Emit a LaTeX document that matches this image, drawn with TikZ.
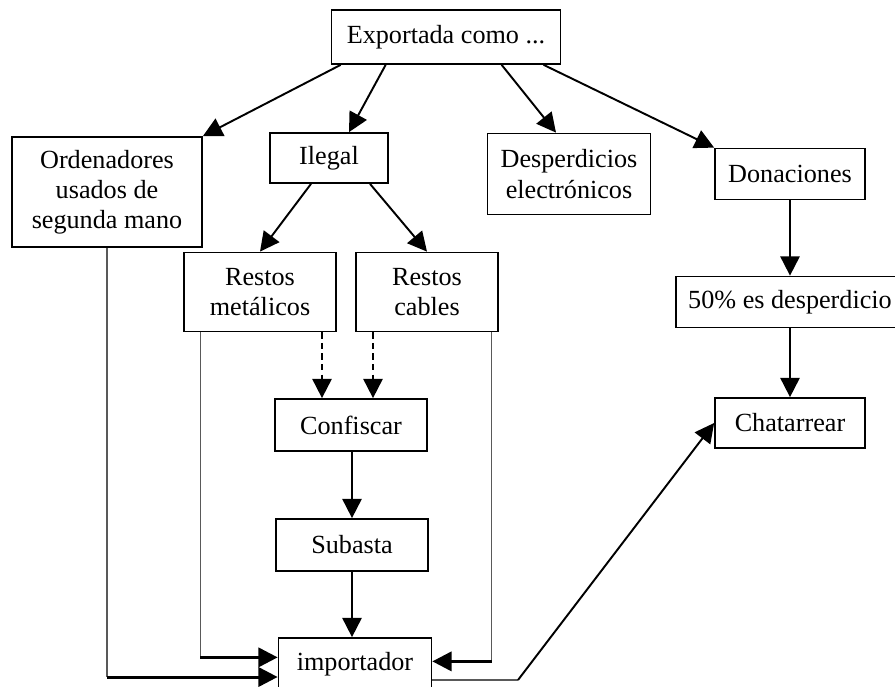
\documentclass[tikz,border=0pt]{standalone}
\usepackage{fontspec}
\setmainfont{Liberation Serif}
\usepackage{tikz}
\usetikzlibrary{arrows.meta,calc}

\begin{document}
\begin{tikzpicture}[x=0.02cm,y=-0.02cm,
  font=\fontsize{14.9}{17.2}\selectfont,
  box/.style={draw,line width=1pt,align=center,inner sep=0pt},
  arr/.style={line width=1.1pt,-{Triangle[length=11pt,width=11pt]}},
  dasharr/.style={arr,dash pattern=on 3.5pt off 2.5pt},
  side/.style={gray!70!black,line width=0.6pt},
  feed/.style={line width=1.7pt,-{Triangle[length=11pt,width=11pt]}}]
\useasboundingbox (0,0) rectangle (895,686);
\node[box,minimum width=4.58cm,minimum height=1.08cm] (export) at (446,37) {Exportada como ...};
\node[box,minimum width=3.8cm,minimum height=2.2cm] (orden) at (107,192) {Ordenadores\\usados de\\segunda mano};
\node[box,minimum width=2.36cm,minimum height=1cm] (ilegal) at (329,158) {Ilegal};
\node[box,minimum width=3.26cm,minimum height=1.62cm] (desp) at (569,174) {Desperdicios\\electrónicos};
\node[box,minimum width=3cm,minimum height=1.02cm] (donac) at (790,174) {Donaciones};
\node[box,minimum width=3.04cm,minimum height=1.58cm] (rmet) at (260,292) {Restos\\metálicos};
\node[box,minimum width=2.84cm,minimum height=1.58cm] (rcab) at (427,292) {Restos\\cables};
\node[box,minimum width=4.56cm,minimum height=1.02cm] (medio) at (790,302) {50\% es desperdicio};
\node[box,minimum width=3cm,minimum height=1cm] (chat) at (790,423) {Chatarrear};
\node[box,minimum width=3.04cm,minimum height=1.04cm] (confis) at (351,425) {Confiscar};
\node[box,minimum width=3.04cm,minimum height=1.04cm] (subasta) at (352,545) {Subasta};
\node[box,minimum width=3.06cm,minimum height=1.04cm] (import) at (355,664) {importador};
\coordinate (ordbend) at (orden.south |- 0,677);
\coordinate (metbend) at ($(rmet.south west)+(17,325)$);
\coordinate (cabbend) at ($(rcab.south east)+(-7,329)$);
\coordinate (outbend) at (518,680);
\coordinate (metdash) at ($(rmet.south)+(62,0)$);
\coordinate (cabdash) at ($(rcab.south)+(-54,0)$);
\draw[arr] ($(export.south west)+(10,0)$) -- (orden.north east);
\draw[arr] ($(export.south west)+(55,0)$) -- ($(ilegal.north)+(20,0)$);
\draw[arr] ($(export.south west)+(171,0)$) -- ($(desp.north)+(-13,0)$);
\draw[arr] ($(export.south west)+(213,0)$) -- (donac.north west);
\draw[arr] ($(ilegal.south)+(-18,0)$) -- (rmet.north);
\draw[arr] ($(ilegal.south)+(41,0)$) -- (rcab.north);
\draw[dasharr] (metdash) -- (metdash |- confis.north);
\draw[dasharr] (cabdash) -- (cabdash |- confis.north);
\draw[arr] (subasta.north |- confis.south) -- (subasta.north);
\draw[arr] (subasta.south) -- (subasta.south |- import.north);
\draw[arr] (donac) -- (medio);
\draw[arr] (medio) -- (chat);
\draw[side] (orden.south) -- (ordbend);
\draw[feed] (ordbend) -- (ordbend -| import.west);
\draw[side] (metbend |- rmet.south) -- (metbend);
\draw[feed] (metbend) -- (metbend -| import.west);
\draw[side] (cabbend |- rcab.south) -- (cabbend);
\draw[feed] (cabbend) -- (cabbend -| import.east);
\draw[side] (outbend -| import.east) -- (outbend);
\draw[arr] (outbend) -- (chat.west);
\end{tikzpicture}
\end{document}
